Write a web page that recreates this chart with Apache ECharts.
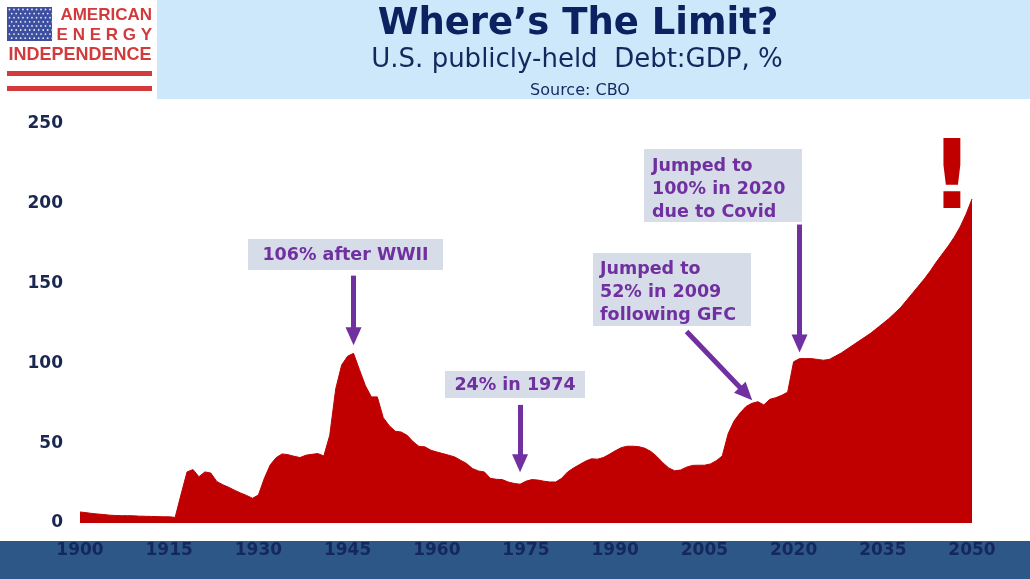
<!DOCTYPE html>
<html>
<head>
<meta charset="utf-8">
<script src="https://cdn.jsdelivr.net/npm/echarts@6/dist/echarts.min.js"></script>
<style>
    html, body {
        margin: 0;
        padding: 0;
        background: #ffffff;
    }
    #chart {
        width: 1030px;
        height: 579px;
    }
</style>
</head>
<body>
<div id="chart"></div>
<script>
    // publicly-held debt as % of GDP, one value per year, 1900 - 2050
    var firstYear = 1900;
    var lastYear = 2050;
    var debtToGdp = [
        6.9, 6.5, 6.0, 5.6, 5.3, 4.9, 4.7, 4.6, 4.6, 4.5,
        4.3, 4.2, 4.1, 4.0, 3.9, 3.9, 3.5, 18, 32, 33.5,
        29, 32, 31.3, 26, 24, 22.4, 20.5, 18.8, 17.3, 15.5,
        17.5, 28, 36.5, 41, 43.3, 42.8, 41.8, 41, 42.5, 43,
        43.5, 42, 55, 84, 99, 104.5, 106.3, 96, 86, 79,
        79, 66, 61, 57.5, 57, 55, 51, 48, 47.7, 45.6,
        44.5, 43.5, 42.5, 41.4, 39.3, 37.3, 34.1, 32.6, 32, 28,
        27.4, 27.2, 25.7, 24.8, 24.3, 26.2, 27.2, 26.9, 26.2, 25.7,
        25.7, 28, 32, 34.5, 36.6, 38.7, 40.2, 40, 41, 43,
        45.2, 47.2, 48.1, 48.1, 47.8, 46.8, 44.8, 41.7, 37.8, 34.5,
        32.7, 33.2, 35, 36.1, 36.2, 36.2, 37, 39, 42, 56,
        64, 69, 73, 75, 76, 74, 77.5, 78.5, 80, 82,
        101, 103, 103, 103, 102.5, 102, 102.5, 104.5, 106.5, 109,
        111.5, 114, 116.5, 119, 122, 125, 128, 131.5, 135, 139.5,
        144, 148.5, 153, 158, 163.5, 168.5, 173.5, 179, 185.5, 193.5,
        203
    ];
    var years = [];
    for (var y = firstYear; y <= lastYear; y++) {
        years.push(String(y));
    }

    // arrows: from (year, value) to (year, value)
    var arrowYearsFrom = ['1946', '1974', '2002', '2021'];
    var arrowValuesFrom = [155, 74, 120, 187];
    var arrowYearsTo = ['1946', '1974', '2012', '2021'];
    var arrowValuesTo = [117, 37.5, 81, 112.5];

    var noteTexts = [
        '106% after WWII',
        '24% in 1974',
        'Jumped to\n52% in 2009\nfollowing GFC',
        'Jumped to\n100% in 2020\ndue to Covid'
    ];

    var titleText = 'Where’s The Limit?';
    var subTitleText = 'U.S. publicly-held  Debt:GDP, %';
    var sourceText = 'Source: CBO';

    var purple = '#7030A0';
    var noteBg = '#D6DDE9';
    var navy = '#15285C';
    var logoRed = '#D23A3C';

    var arrowData = [];
    for (var i = 0; i < arrowYearsFrom.length; i++) {
        arrowData.push([
            { coord: [arrowYearsFrom[i], arrowValuesFrom[i]] },
            { coord: [arrowYearsTo[i], arrowValuesTo[i]] }
        ]);
    }

    // little star field of the logo flag
    var logoDots = [];
    for (var r = 0; r < 8; r++) {
        for (var c = 0; c < 10; c++) {
            logoDots.push({
                type: 'circle',
                shape: { cx: 9.5 + c * 4.5 + (r % 2) * 2.2, cy: 9.5 + r * 4.1, r: 0.9 },
                style: { fill: '#e8ecf8' },
                z: 1
            });
        }
    }

    var graphics = [
        // header band
        { type: 'rect', shape: { x: 157, y: 0, width: 873, height: 99 }, style: { fill: '#CDE8FA' }, z: -1 },
        // bottom band
        { type: 'rect', shape: { x: 0, y: 541, width: 1030, height: 38 }, style: { fill: '#2C5786' }, z: -1 },
        // logo
        { type: 'rect', shape: { x: 7, y: 7, width: 45, height: 34 }, style: { fill: '#3D4F9E' }, z: 0 },
        { type: 'text', x: 152, y: 15, style: { text: 'AMERICAN', font: 'bold 17px "Liberation Sans"', fill: logoRed, align: 'right', verticalAlign: 'middle' } },
        { type: 'text', x: 152, y: 35, style: { text: 'E N E R G Y', font: 'bold 17px "Liberation Sans"', fill: logoRed, align: 'right', verticalAlign: 'middle' } },
        { type: 'text', x: 80, y: 55, style: { text: 'INDEPENDENCE', font: 'bold 18px "Liberation Sans"', fill: logoRed, align: 'center', verticalAlign: 'middle' } },
        { type: 'rect', shape: { x: 7, y: 71, width: 145, height: 5 }, style: { fill: logoRed } },
        { type: 'rect', shape: { x: 7, y: 86, width: 145, height: 5 }, style: { fill: logoRed } },
        // titles
        { type: 'text', x: 578, y: 24, style: { text: titleText, font: 'bold 37px "DejaVu Sans"', fill: '#0B2160', align: 'center', verticalAlign: 'middle' } },
        { type: 'text', x: 577, y: 60, style: { text: subTitleText, font: '26px "DejaVu Sans"', fill: '#13295E', align: 'center', verticalAlign: 'middle' } },
        { type: 'text', x: 580, y: 91, style: { text: sourceText, font: '16px "DejaVu Sans"', fill: '#13295E', align: 'center', verticalAlign: 'middle' } },
        // note boxes
        { type: 'rect', shape: { x: 248, y: 239, width: 195, height: 31 }, style: { fill: noteBg } },
        { type: 'text', x: 345.5, y: 255, style: { text: noteTexts[0], font: 'bold 17.5px "DejaVu Sans"', fill: purple, align: 'center', verticalAlign: 'middle' } },
        { type: 'rect', shape: { x: 445, y: 371, width: 140, height: 27 }, style: { fill: noteBg } },
        { type: 'text', x: 515, y: 385, style: { text: noteTexts[1], font: 'bold 17.5px "DejaVu Sans"', fill: purple, align: 'center', verticalAlign: 'middle' } },
        { type: 'rect', shape: { x: 593, y: 253, width: 158, height: 73 }, style: { fill: noteBg } },
        { type: 'text', x: 600, y: 292, style: { text: noteTexts[2], font: 'bold 17.5px "DejaVu Sans"', lineHeight: 23, fill: purple, align: 'left', verticalAlign: 'middle' } },
        { type: 'rect', shape: { x: 644, y: 149, width: 158, height: 73 }, style: { fill: noteBg } },
        { type: 'text', x: 652, y: 189, style: { text: noteTexts[3], font: 'bold 17.5px "DejaVu Sans"', lineHeight: 23, fill: purple, align: 'left', verticalAlign: 'middle' } },
        // the "!" over the end of the projection
        { type: 'text', x: 952, y: 183, style: { text: '!', font: 'bold 96px "DejaVu Sans"', fill: '#C00000', align: 'center', verticalAlign: 'middle' } }
    ].concat(logoDots);

    var option = {
        animation: false,
        backgroundColor: '#ffffff',
        grid: {
            left: 80,
            right: 58,
            top: 124,
            bottom: 56
        },
        xAxis: {
            type: 'category',
            data: years,
            boundaryGap: false,
            axisLine: { show: false },
            axisTick: { show: false },
            splitLine: { show: false },
            axisLabel: {
                interval: 14,
                margin: 19,
                color: navy,
                fontFamily: 'DejaVu Sans',
                fontWeight: 'bold',
                fontSize: 17
            }
        },
        yAxis: {
            type: 'value',
            min: 0,
            max: 250,
            interval: 50,
            axisLine: { show: false },
            axisTick: { show: false },
            splitLine: { show: false },
            axisLabel: {
                margin: 17,
                color: '#1A2750',
                fontFamily: 'DejaVu Sans',
                fontWeight: 'bold',
                fontSize: 17
            }
        },
        graphic: graphics,
        series: [{
            name: 'Debt:GDP',
            type: 'line',
            data: debtToGdp,
            showSymbol: false,
            symbol: 'none',
            lineStyle: { color: '#C00000', width: 1 },
            areaStyle: { color: '#C00000', opacity: 1 },
            z: 2,
            markLine: {
                silent: true,
                symbol: ['none', 'triangle'],
                symbolSize: [16, 18],
                label: { show: false },
                lineStyle: { color: purple, width: 5, type: 'solid' },
                data: arrowData
            }
        }]
    };

    var Chart = echarts.init(document.getElementById('chart'));
    Chart.setOption(option);
</script>
</body>
</html>
